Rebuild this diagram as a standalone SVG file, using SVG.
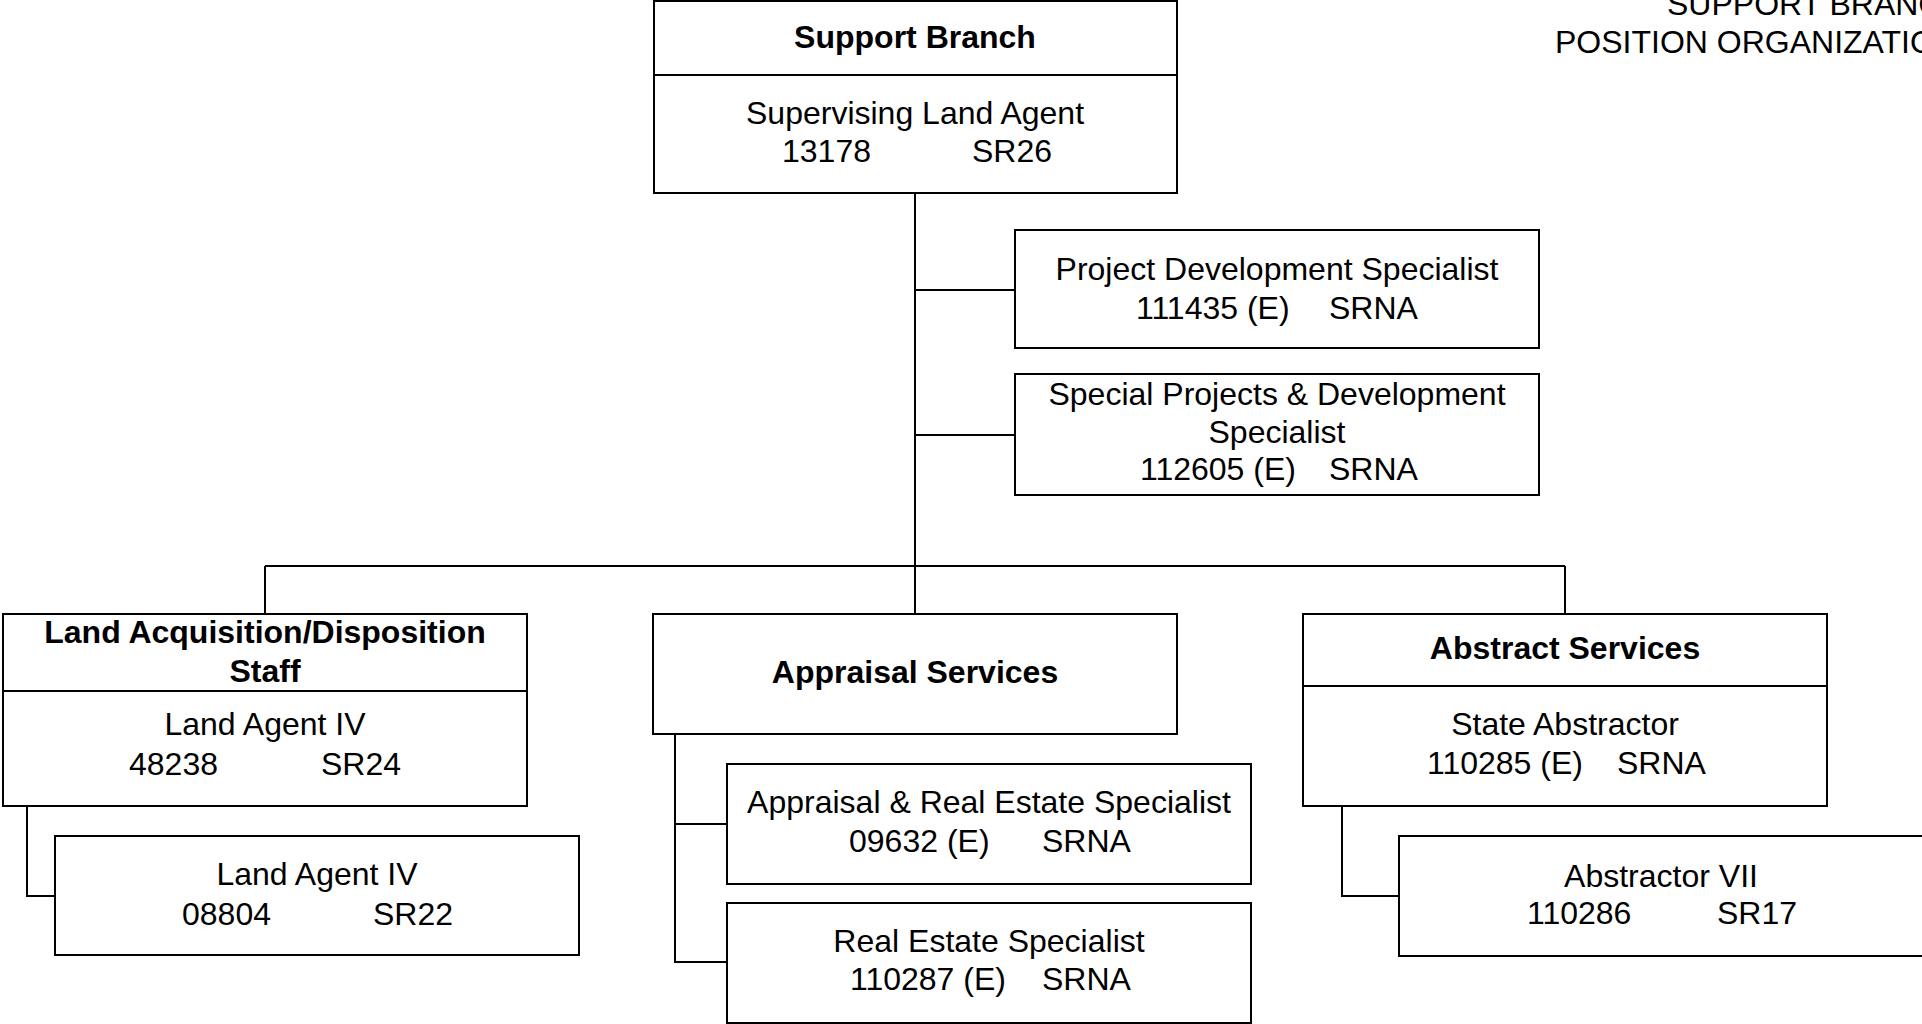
<svg xmlns="http://www.w3.org/2000/svg" width="1922" height="1024" viewBox="0 0 1922 1024">
<style>
.box{fill:#fff;stroke:#000;stroke-width:2}
.ln{fill:none;stroke:#000;stroke-width:2}
text{font-family:"Liberation Sans",Arial,sans-serif;font-size:32px;fill:#000}
.b{font-weight:bold}
.c{text-anchor:middle}
</style>
<rect width="1922" height="1024" fill="#fff"/>
<g id="connectors">
<path class="ln" d="M915 193V614"/>
<path class="ln" d="M915 290H1015"/>
<path class="ln" d="M915 435H1015"/>
<path class="ln" d="M265 566H1565"/>
<path class="ln" d="M265 566V614"/>
<path class="ln" d="M1565 566V614"/>
<path class="ln" d="M27 806V896H55"/>
<path class="ln" d="M675 734V962H727"/>
<path class="ln" d="M675 824H727"/>
<path class="ln" d="M1342 806V896H1399"/>
</g>
<g id="title">
<text x="1667" y="15">SUPPORT BRANC</text>
<text x="1555" y="53">POSITION ORGANIZATIO</text>
</g>
<g id="support-branch">
<rect class="box" x="654" y="1" width="523" height="192"/>
<path class="ln" d="M654 75H1177"/>
<text class="b c" x="915" y="48">Support Branch</text>
<text class="c" x="915" y="124">Supervising Land Agent</text>
<text y="162"><tspan x="782">13178</tspan><tspan x="972">SR26</tspan></text>
</g>
<g id="project-dev">
<rect class="box" x="1015" y="230" width="524" height="118"/>
<text class="c" x="1277" y="280">Project Development Specialist</text>
<text y="319"><tspan x="1136">111435 (E)</tspan><tspan x="1329">SRNA</tspan></text>
</g>
<g id="special-projects">
<rect class="box" x="1015" y="374" width="524" height="121"/>
<text class="c" x="1277" y="405">Special Projects &amp; Development</text>
<text class="c" x="1277" y="443">Specialist</text>
<text y="480"><tspan x="1140">112605 (E)</tspan><tspan x="1329">SRNA</tspan></text>
</g>
<g id="land-acq">
<rect class="box" x="3" y="614" width="524" height="192"/>
<path class="ln" d="M3 691H527"/>
<text class="b c" x="265" y="643">Land Acquisition/Disposition</text>
<text class="b c" x="265" y="682">Staff</text>
<text class="c" x="265" y="735">Land Agent IV</text>
<text y="775"><tspan x="129">48238</tspan><tspan x="321">SR24</tspan></text>
</g>
<g id="land-agent-08804">
<rect class="box" x="55" y="836" width="524" height="119"/>
<text class="c" x="317" y="885">Land Agent IV</text>
<text y="925"><tspan x="182">08804</tspan><tspan x="373">SR22</tspan></text>
</g>
<g id="appraisal">
<rect class="box" x="653" y="614" width="524" height="120"/>
<text class="b c" x="915" y="683">Appraisal Services</text>
</g>
<g id="appraisal-re">
<rect class="box" x="727" y="764" width="524" height="120"/>
<text class="c" x="989" y="813">Appraisal &amp; Real Estate Specialist</text>
<text y="852"><tspan x="849">09632 (E)</tspan><tspan x="1042">SRNA</tspan></text>
</g>
<g id="real-estate">
<rect class="box" x="727" y="903" width="524" height="120"/>
<text class="c" x="989" y="952">Real Estate Specialist</text>
<text y="990"><tspan x="850">110287 (E)</tspan><tspan x="1042">SRNA</tspan></text>
</g>
<g id="abstract">
<rect class="box" x="1303" y="614" width="524" height="192"/>
<path class="ln" d="M1303 686H1827"/>
<text class="b c" x="1565" y="659">Abstract Services</text>
<text class="c" x="1565" y="735">State Abstractor</text>
<text y="774"><tspan x="1427">110285 (E)</tspan><tspan x="1617">SRNA</tspan></text>
</g>
<g id="abstractor-vii">
<rect class="box" x="1399" y="836" width="524" height="120"/>
<text class="c" x="1661" y="887">Abstractor VII</text>
<text y="924"><tspan x="1527">110286</tspan><tspan x="1717">SR17</tspan></text>
</g>
</svg>
